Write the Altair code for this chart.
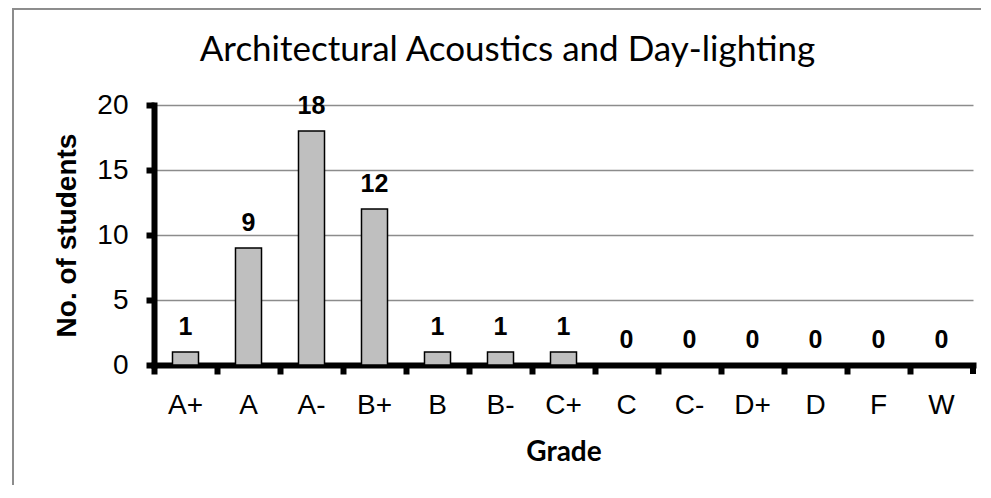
import altair as alt
import pandas as pd

grades = ["A+", "A", "A-", "B+", "B", "B-", "C+", "C", "C-", "D+", "D", "F", "W"]
counts = [1, 9, 18, 12, 1, 1, 1, 0, 0, 0, 0, 0, 0]
y_ticks = [0, 5, 10, 15, 20]

df = pd.DataFrame({"grade": grades, "count": counts})

W, H = 819, 260

x_enc = alt.X(
    "grade:N",
    sort=grades,
    scale=alt.Scale(paddingInner=0, paddingOuter=0),
    axis=alt.Axis(
        title="Grade",
        labelAngle=0,
        labelFont="Liberation Sans",
        labelFontSize=28,
        labelColor="black",
        labelBaseline="alphabetic",
        labelPadding=39,
        domainColor="black",
        domainWidth=6,
        domainCap="square",
        tickColor="black",
        tickWidth=6,
        tickSize=9,
        bandPosition=0,
        grid=False,
        titleFont="Lato",
        titleFontWeight="bold",
        titleFontSize=28,
        titleColor="black",
        titleBaseline="alphabetic",
        titleY=95,
    ),
)

y_enc = alt.Y(
    "count:Q",
    scale=alt.Scale(domain=[0, 20], nice=False),
    axis=alt.Axis(
        title="No. of students",
        values=y_ticks,
        labelFont="Liberation Sans",
        labelFontSize=28,
        labelColor="black",
        labelPadding=18,
        domainColor="black",
        domainWidth=6,
        domainCap="square",
        tickColor="black",
        tickWidth=6,
        tickSize=8,
        grid=True,
        gridColor="#8c8c8c",
        gridWidth=1.5,
        titleFont="Liberation Sans",
        titleFontWeight="bold",
        titleFontSize=28,
        titleColor="black",
        titleAngle=270,
        titleAlign="center",
        titleBaseline="middle",
        titleX=-87,
        titleY=H / 2,
    ),
)

base = alt.Chart(df)

bars = base.mark_bar(
    width=alt.RelativeBandSize(0.413),
    fill="#BFBFBF",
    stroke="black",
    strokeWidth=1.5,
).encode(x=x_enc, y=y_enc)

labels = base.mark_text(
    dy=-17,
    baseline="alphabetic",
    font="Liberation Sans",
    fontWeight="bold",
    fontSize=25,
    color="black",
).encode(x=alt.X("grade:N", sort=grades), y="count:Q", text="count:Q")

end_tick = alt.Chart(df).mark_rule(color="black", strokeWidth=6).encode(
    x=alt.value(W), y=alt.value(H), y2=alt.value(H + 9)
)

frame_left = alt.Chart(df).mark_rule(color="#8c8c8c", strokeWidth=1.5).encode(
    x=alt.value(-141), y=alt.value(-96.5), y2=alt.value(H + 130)
)
frame_top = alt.Chart(df).mark_rule(color="#8c8c8c", strokeWidth=1.5).encode(
    x=alt.value(-141), x2=alt.value(W + 40), y=alt.value(-96.5)
)

chart = (
    alt.layer(bars, labels, end_tick, frame_left, frame_top)
    .properties(
        width=W,
        height=H,
        title=alt.TitleParams(
            "Architectural Acoustics and Day-lighting",
            font="Lato",
            fontSize=35,
            fontWeight="normal",
            color="black",
            anchor="middle",
            frame="group",
            dx=-56,
            dy=36,
            offset=-52,
            baseline="alphabetic",
        ),
        autosize=alt.AutoSizeParams(type="none"),
        padding={"left": 146, "top": 97, "right": 8, "bottom": 120},
        background="white",
    )
    .configure_view(stroke="transparent")
)

chart.save("out.html", embed_options={"renderer": "svg", "actions": False})
